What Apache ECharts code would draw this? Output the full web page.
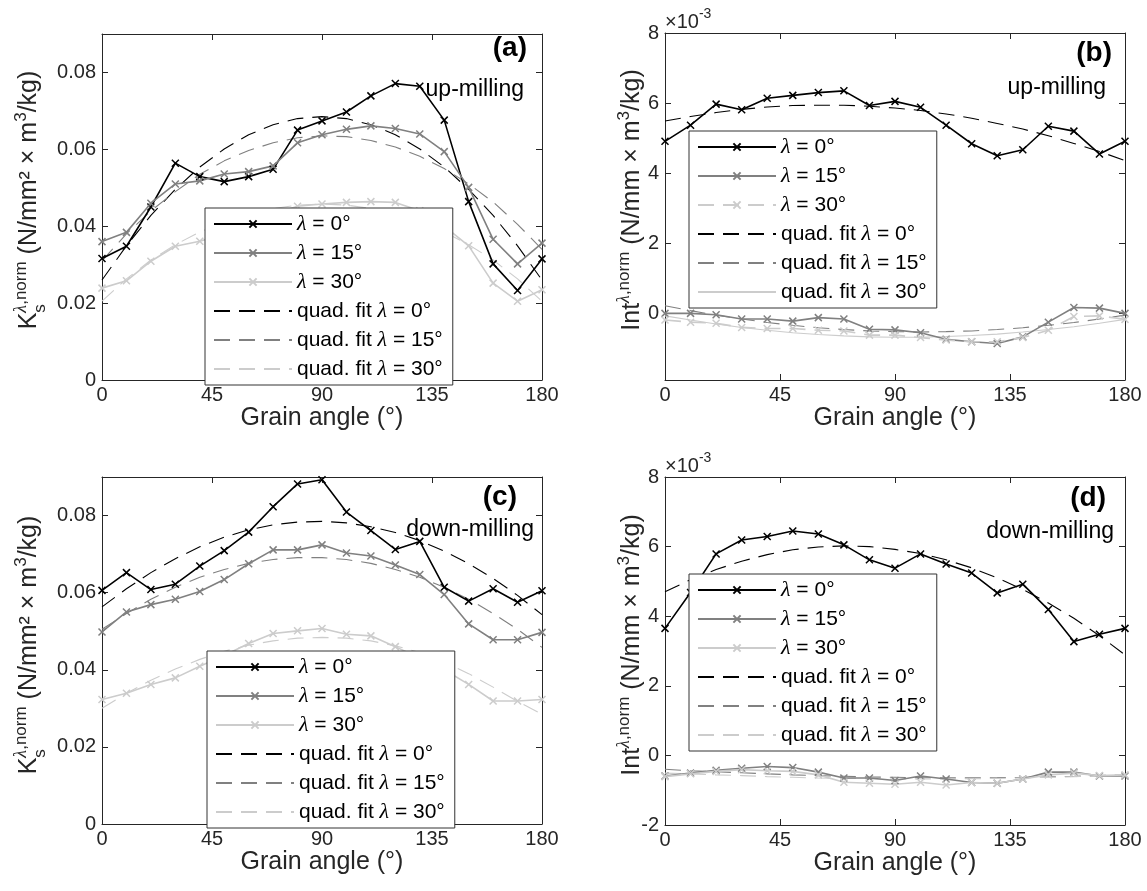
<!DOCTYPE html>
<html><head><meta charset="utf-8">
<script src="https://cdn.jsdelivr.net/npm/echarts@6.0.0/dist/echarts.min.js"></script>
<style>html,body{margin:0;padding:0;background:#fff}#c{width:1147px;height:891px}</style>
</head><body><div id="c"></div><script>
// ---------- data ----------
const angles = [0,10,20,30,40,50,60,70,80,90,100,110,120,130,140,150,160,170,180];
const xTicks = [0,45,90,135,180];
const yTicksK = [0,0.02,0.04,0.06,0.08];
const yTicksB = [0,2,4,6,8];
const yTicksD = [-2,0,2,4,6,8];

// (a) up-milling, K_s
const a_l0  = [0.0316,0.0348,0.0450,0.0564,0.0529,0.0516,0.0529,0.0548,0.0650,0.0674,0.0697,0.0739,0.0771,0.0764,0.0676,0.0464,0.0302,0.0233,0.0315];
const a_l15 = [0.0360,0.0384,0.0460,0.0510,0.0518,0.0536,0.0542,0.0557,0.0617,0.0638,0.0652,0.0661,0.0654,0.0640,0.0594,0.0501,0.0366,0.0302,0.0356];
const a_l30 = [0.0239,0.0258,0.0309,0.0348,0.0361,0.0380,0.0405,0.0432,0.0452,0.0458,0.0462,0.0464,0.0462,0.0440,0.0400,0.0349,0.0252,0.0205,0.0235];
const a_f0  = [0.0260,0.0349,0.0428,0.0496,0.0554,0.0601,0.0638,0.0664,0.0680,0.0685,0.0680,0.0664,0.0638,0.0601,0.0554,0.0496,0.0428,0.0349,0.0260];
const a_f15 = [0.0310,0.0380,0.0440,0.0490,0.0535,0.0570,0.0597,0.0617,0.0630,0.0635,0.0633,0.0623,0.0606,0.0582,0.0550,0.0510,0.0463,0.0405,0.0340];
const a_f30 = [0.0205,0.0263,0.0312,0.0352,0.0385,0.0410,0.0432,0.0446,0.0455,0.0458,0.0455,0.0446,0.0432,0.0410,0.0385,0.0352,0.0312,0.0263,0.0205];

// (b) up-milling, Int (x 1e-3)
const b_l0  = [4.91,5.37,5.97,5.81,6.14,6.22,6.30,6.35,5.93,6.05,5.88,5.37,4.84,4.50,4.67,5.34,5.20,4.55,4.91];
const b_l15 = [0.00,0.00,-0.04,-0.16,-0.16,-0.22,-0.12,-0.16,-0.45,-0.47,-0.55,-0.74,-0.81,-0.86,-0.67,-0.25,0.17,0.15,0.00];
const b_l30 = [-0.19,-0.25,-0.28,-0.40,-0.43,-0.43,-0.48,-0.50,-0.62,-0.62,-0.69,-0.76,-0.81,-0.81,-0.69,-0.48,-0.09,-0.07,-0.17];
const b_f0  = [5.49,5.62,5.73,5.82,5.89,5.93,5.94,5.94,5.91,5.86,5.79,5.69,5.57,5.42,5.26,5.07,4.85,4.62,4.36];
const b_f15 = [0.22,0.08,-0.05,-0.16,-0.26,-0.34,-0.41,-0.46,-0.50,-0.52,-0.53,-0.52,-0.50,-0.46,-0.41,-0.34,-0.26,-0.16,-0.05];
const b_f30 = [-0.07,-0.19,-0.30,-0.40,-0.48,-0.55,-0.60,-0.64,-0.67,-0.68,-0.68,-0.66,-0.63,-0.59,-0.53,-0.46,-0.38,-0.28,-0.17];

// (c) down-milling, K_s
const c_l0  = [0.0606,0.0652,0.0608,0.0622,0.0669,0.0709,0.0757,0.0823,0.0882,0.0893,0.0809,0.0761,0.0712,0.0733,0.0614,0.0578,0.0610,0.0575,0.0605];
const c_l15 = [0.0498,0.0550,0.0569,0.0583,0.0603,0.0634,0.0675,0.0711,0.0711,0.0724,0.0703,0.0695,0.0672,0.0647,0.0595,0.0519,0.0478,0.0478,0.0497];
const c_l30 = [0.0323,0.0339,0.0362,0.0379,0.0409,0.0437,0.0468,0.0494,0.0501,0.0507,0.0492,0.0488,0.0460,0.0430,0.0400,0.0362,0.0319,0.0319,0.0323];
const c_f0  = [0.0563,0.0610,0.0652,0.0688,0.0719,0.0744,0.0763,0.0776,0.0783,0.0785,0.0781,0.0771,0.0756,0.0735,0.0708,0.0675,0.0637,0.0593,0.0543];
const c_f15 = [0.0505,0.0546,0.0583,0.0614,0.0640,0.0660,0.0676,0.0686,0.0691,0.0691,0.0686,0.0676,0.0660,0.0640,0.0614,0.0583,0.0546,0.0505,0.0458];
const c_f30 = [0.0300,0.0339,0.0373,0.0402,0.0427,0.0448,0.0464,0.0475,0.0482,0.0484,0.0482,0.0475,0.0462,0.0445,0.0420,0.0390,0.0355,0.0318,0.0285];

// (d) down-milling, Int (x 1e-3)
const d_l0  = [3.65,4.68,5.79,6.19,6.29,6.45,6.36,6.05,5.62,5.38,5.79,5.50,5.24,4.67,4.92,4.19,3.27,3.48,3.65];
const d_l15 = [-0.59,-0.51,-0.43,-0.37,-0.32,-0.35,-0.48,-0.65,-0.65,-0.72,-0.59,-0.68,-0.78,-0.80,-0.68,-0.48,-0.48,-0.59,-0.59];
const d_l30 = [-0.61,-0.53,-0.46,-0.41,-0.44,-0.46,-0.56,-0.77,-0.80,-0.83,-0.77,-0.85,-0.78,-0.80,-0.68,-0.56,-0.51,-0.58,-0.56];
const d_f0  = [4.70,5.05,5.34,5.58,5.77,5.91,5.99,6.02,6.00,5.92,5.80,5.62,5.39,5.10,4.77,4.38,3.94,3.44,2.89];
const d_f15 = [-0.40,-0.44,-0.47,-0.50,-0.53,-0.56,-0.58,-0.60,-0.62,-0.63,-0.64,-0.645,-0.645,-0.64,-0.63,-0.615,-0.60,-0.58,-0.555];
const d_f30 = [-0.51,-0.53,-0.56,-0.58,-0.61,-0.63,-0.65,-0.66,-0.67,-0.68,-0.68,-0.68,-0.67,-0.66,-0.65,-0.63,-0.61,-0.58,-0.555];

// ---------- styling ----------
const SANS = '"Liberation Sans", Arial, Helvetica, sans-serif';
const SERIF = '"Liberation Serif", "DejaVu Serif", serif';
const AX = '#262626';
const C0 = '#000000', C15 = '#808080', C30 = '#cccccc';
const XSYM = 'path://M0,0L10,10M0,10L10,0';
const DASH = [16, 9];
const TITLE_FS = 25;

const grids = [
  {left:102, top:34,  width:440, height:346},
  {left:665, top:33,  width:460, height:347},
  {left:102, top:477, width:440, height:347},
  {left:665, top:477, width:460, height:348}
];
const yRanges = [
  {min:0, max:0.09, ticks:yTicksK},
  {min:-1.9, max:8, ticks:yTicksB},
  {min:0, max:0.09, ticks:yTicksK},
  {min:-2, max:8, ticks:yTicksD}
];

const xAxes = [], yAxes = [];
grids.forEach((g, i) => {
  xAxes.push({
    gridIndex:i, type:'value', min:0, max:180, interval:45, position:'bottom',
    name:'Grain angle (°)', nameLocation:'middle', nameGap:25,
    nameTextStyle:{fontFamily:SANS, fontSize:TITLE_FS, color:AX, verticalAlign:'top'},
    axisLine:{onZero:false, lineStyle:{color:AX, width:1}},
    axisTick:{inside:true, length:6, lineStyle:{color:AX}},
    axisLabel:{fontFamily:SANS, fontSize:20, color:AX, margin:5},
    splitLine:{show:false}
  });
  xAxes.push({
    gridIndex:i, type:'value', min:0, max:180, interval:45, position:'top',
    axisLine:{onZero:false, lineStyle:{color:AX, width:1}},
    axisTick:{inside:true, length:6, lineStyle:{color:AX}},
    axisLabel:{show:false}, splitLine:{show:false}
  });
  const r = yRanges[i];
  yAxes.push({
    gridIndex:i, type:'value', min:r.min, max:r.max, position:'left',
    axisLine:{show:true, onZero:false, lineStyle:{color:AX, width:1}},
    axisTick:{show:true, inside:true, length:6, lineStyle:{color:AX}, customValues:r.ticks},
    axisLabel:{fontFamily:SANS, fontSize:20, color:AX, margin:6, customValues:r.ticks},
    splitLine:{show:false}
  });
  yAxes.push({
    gridIndex:i, type:'value', min:r.min, max:r.max, position:'right',
    axisLine:{show:true, onZero:false, lineStyle:{color:AX, width:1}},
    axisTick:{show:true, inside:true, length:6, lineStyle:{color:AX}, customValues:r.ticks},
    axisLabel:{show:false}, splitLine:{show:false}
  });
});

function pairs(arr){ return angles.map((a,i)=>[a, arr[i]]); }

const labelText = {
  '0':'{l|λ} = 0°', '15':'{l|λ} = 15°', '30':'{l|λ} = 30°',
  'f0':'quad. fit {l|λ} = 0°', 'f15':'quad. fit {l|λ} = 15°', 'f30':'quad. fit {l|λ} = 30°'
};

const panels = [
  {p:'a', d:[a_l0,a_l15,a_l30], f:[a_f0,a_f15,a_f30], l30dash:false, f30solid:false},
  {p:'b', d:[b_l0,b_l15,b_l30], f:[b_f0,b_f15,b_f30], l30dash:true,  f30solid:true},
  {p:'c', d:[c_l0,c_l15,c_l30], f:[c_f0,c_f15,c_f30], l30dash:false, f30solid:false},
  {p:'d', d:[d_l0,d_l15,d_l30], f:[d_f0,d_f15,d_f30], l30dash:false, f30solid:false}
];
const keys = ['0','15','30'];
const cols = [C0, C15, C30];

const series = [];
panels.forEach((P, gi) => {
  P.d.forEach((arr, k) => {
    const dashed = (k===2 && P.l30dash);
    series.push({
      name:P.p+'|'+keys[k], type:'line', xAxisIndex:gi*2, yAxisIndex:gi*2,
      data:pairs(arr), symbol:XSYM, symbolSize:7, showSymbol:true,
      lineStyle:{color:cols[k], width:1.6, type: dashed ? DASH : 'solid'},
      itemStyle:{color:cols[k], borderColor:cols[k], borderWidth:1.5},
      emphasis:{disabled:true}, animation:false, z:3
    });
  });
  P.f.forEach((arr, k) => {
    const solid = (k===2 && P.f30solid);
    series.push({
      name:P.p+'|f'+keys[k], type:'line', xAxisIndex:gi*2, yAxisIndex:gi*2,
      data:pairs(arr), symbol:'circle', symbolSize:0, showSymbol:false,
      lineStyle:{color:cols[k], width:1.1, type: solid ? 'solid' : DASH},
      itemStyle:{color:'rgba(0,0,0,0)', borderWidth:0, opacity:0},
      emphasis:{disabled:true}, animation:false, z:2
    });
  });
});

const legendPos = [
  {left:205, top:208}, {left:689, top:131}, {left:207, top:651}, {left:689, top:574}
];
const legends = panels.map((P, gi) => ({
  show:true, orient:'vertical', left:legendPos[gi].left, top:legendPos[gi].top,
  data:['0','15','30','f0','f15','f30'].map(k => (k[0]==='f'
      ? {name:P.p+'|'+k, itemStyle:{opacity:0}}
      : {name:P.p+'|'+k})),
  formatter:(name)=>labelText[name.split('|')[1]],
  itemWidth:78, itemHeight:9, itemGap:7,
  padding:[5,10,5,8],
  backgroundColor:'#ffffff', borderColor:'#333333', borderWidth:1,
  selectedMode:false,
  textStyle:{fontFamily:SANS, fontSize:21, color:'#000', lineHeight:21,
    rich:{l:{fontFamily:SERIF, fontStyle:'italic', fontSize:22, color:'#000'}}},
  z:10
}));

// ---------- text helpers (titles, annotations) ----------
const mctx = document.createElement('canvas').getContext('2d');
function tw(t, size, font, italic, bold){
  mctx.font = (italic?'italic ':'') + (bold?'bold ':'') + size + 'px ' + font;
  return mctx.measureText(t).width;
}
function textLine(segs, cx, cy, rotate, color){
  let x = 0; const kids = [];
  segs.forEach(s => {
    const f = s.serif ? SERIF : SANS;
    const w = tw(s.t, s.size, f, s.italic, s.bold);
    kids.push({type:'text', x:x, y:s.dy||0, silent:true, style:{
      text:s.t, fontSize:s.size, fontFamily:f,
      fontStyle:s.italic?'italic':'normal', fontWeight:s.bold?'bold':'normal',
      fill:color||AX, align:'left', verticalAlign:'bottom'}});
    if(!s.noAdv) x += w;
  });
  kids.forEach(k => { k.x -= x/2; });
  return {type:'group', x:cx, y:cy, rotation: rotate ? Math.PI/2 : 0, silent:true, children:kids};
}
const TS = TITLE_FS, SS = 17, UP = -12, DN = 7;
function kTitle(cx, cy){
  return textLine([
    {t:'K', size:TS},
    {t:'s', size:SS, dy:DN, noAdv:true},
    {t:'λ', size:SS+1, dy:UP, serif:true, italic:true},
    {t:',norm', size:SS, dy:UP},
    {t:' (N/mm² × m', size:TS},
    {t:'3', size:SS, dy:UP},
    {t:'/kg)', size:TS}
  ], cx, cy, true);
}
function iTitle(cx, cy){
  return textLine([
    {t:'Int', size:TS},
    {t:'λ', size:SS+1, dy:UP, serif:true, italic:true},
    {t:',norm', size:SS, dy:UP},
    {t:' (N/mm × m', size:TS},
    {t:'3', size:SS, dy:UP},
    {t:'/kg)', size:TS}
  ], cx, cy, true);
}
function ann(text, x, y, size, bold){
  return {type:'text', x:x, y:y, silent:true, z:20, style:{text:text, fontSize:size,
    fontFamily:SANS, fontWeight:bold?'bold':'normal', fill:'#000',
    align:'right', verticalAlign:'middle'}};
}
function expo(x, y){
  return {type:'group', x:x, y:y, silent:true, children:[
    {type:'text', x:0, y:0, style:{text:'×10', fontSize:20, fontFamily:SANS, fill:AX, align:'left', verticalAlign:'middle'}},
    {type:'text', x:tw('×10',20,SANS), y:-8, style:{text:'-3', fontSize:14, fontFamily:SANS, fill:AX, align:'left', verticalAlign:'middle'}}
  ]};
}

const graphics = [
  kTitle(42, 200), iTitle(645, 200), kTitle(42, 645), iTitle(645, 645),
  ann('(a)', 527, 48, 28, true), ann('up-milling', 524, 90, 23, false),
  ann('(b)', 1112, 53, 28, true), ann('up-milling', 1106, 88, 23, false),
  ann('(c)', 517, 497, 28, true), ann('down-milling', 534, 530, 23, false),
  ann('(d)', 1106, 498, 28, true), ann('down-milling', 1114, 532, 23, false),
  expo(665, 22), expo(665, 466)
];

const chart = echarts.init(document.getElementById('c'), null, {renderer:'canvas'});
chart.setOption({
  animation:false,
  backgroundColor:'#ffffff',
  grid:grids.map(g => Object.assign({containLabel:false}, g)),
  xAxis:xAxes, yAxis:yAxes,
  legend:legends,
  series:series,
  graphic:graphics
});
</script></body></html>
